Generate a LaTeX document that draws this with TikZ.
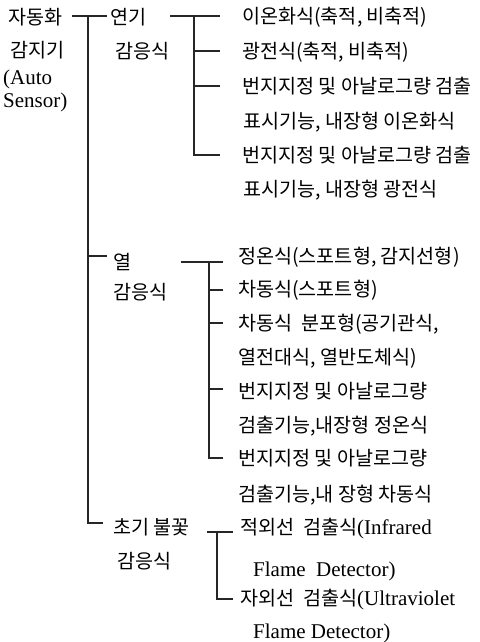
\documentclass[tikz,border=0pt]{standalone}
\usepackage{fontspec}
\setmainfont{Noto Sans CJK KR}
\newfontfamily\latf{Liberation Serif}
\newcommand\lt[1]{{\latf\fontsize{21}{21}\selectfont #1}}
\tikzset{
  txt/.style={anchor=base west, inner sep=0pt, font=\fontsize{19.6}{19.6}\selectfont},
  ln/.style={line width=1.1pt, black!85}
}
\begin{document}
\begin{tikzpicture}[x=1pt,y=-1pt]
\useasboundingbox[fill=white] (0,0) rectangle (479,642);
% root
\node[txt] (r1) at (8,25) {자동화};
\node[txt] (r2) at (10,58) {감지기};
\node[txt] (r3) at (3,84) {\lt{(Auto}};
\node[txt] (r4) at (3,107) {\lt{Sensor)}};
% level 1
\node[txt] (s1) at (110,25) {연기};
\node[txt] (s2) at (115,59) {감응식};
\node[txt] (h1) at (113,269) {열};
\node[txt] (h2) at (113,299) {감응식};
\node[txt] (f1) at (113,534) {초기 불꽃};
\node[txt] (f2) at (117,568) {감응식};
% smoke leaves
\node[txt] (a1) at (242,24) {이온화식(축적, 비축적)};
\node[txt] (a2) at (242,59) {광전식(축적, 비축적)};
\node[txt] (a3) at (242,93) {번지지정 및 아날로그량 검출};
\node[txt] (a4) at (243,128) {표시기능, 내장형 이온화식};
\node[txt] (a5) at (242,162) {번지지정 및 아날로그량 검출};
\node[txt] (a6) at (243,196) {표시기능, 내장형 광전식};
% heat leaves
\node[txt] (b1) at (238,263) {정온식(스포트형, 감지선형)};
\node[txt] (b2) at (238,296) {차동식(스포트형)};
\node[txt] (b3) at (238,330) {차동식\ \ 분포형(공기관식,};
\node[txt] (b4) at (238,364) {열전대식, 열반도체식)};
\node[txt] (b5) at (238,398) {번지지정 및 아날로그량};
\node[txt] (b6) at (238,432) {검출기능,내장형 정온식};
\node[txt] (b7) at (238,465) {번지지정 및 아날로그량};
\node[txt] (b8) at (238,501) {검출기능,내 장형 차동식};
% flame leaves
\node[txt] (c1) at (240,534) {적외선\ \ 검출식\lt{(Infrared}};
\node[txt] (c2) at (253,576) {\lt{Flame\ \ Detector)}};
\node[txt] (c3) at (240,605) {자외선\ \ 검출식\lt{(Ultraviolet}};
\node[txt] (c4) at (253,638) {\lt{Flame Detector)}};
% junction coordinates
\coordinate (m0) at (72,16);
\coordinate (mt) at (88,16);
\coordinate (m1) at (107,16);
\coordinate (mh) at (88,256);
\coordinate (mh1) at (107,256);
\coordinate (mb) at (88,523);
\coordinate (mf) at (103,523);
\coordinate (p0) at (170,16);
\coordinate (pt) at (194,16);
\coordinate (pa1) at (220,16);
\coordinate (pq2) at (194,51);
\coordinate (pa2) at (220,51);
\coordinate (pq3) at (194,86);
\coordinate (pa3) at (220,86);
\coordinate (pb) at (194,155);
\coordinate (pa5) at (220,155);
\coordinate (q0) at (181,262);
\coordinate (qt) at (209,262);
\coordinate (qb1) at (223,262);
\coordinate (qq2) at (209,290);
\coordinate (qb2) at (223,290);
\coordinate (qq3) at (209,323);
\coordinate (qb3) at (223,323);
\coordinate (qq5) at (209,389);
\coordinate (qb5) at (223,389);
\coordinate (qb) at (209,458);
\coordinate (qb7) at (223,458);
\coordinate (u0) at (207,532);
\coordinate (ut) at (217,532);
\coordinate (uc1) at (233,532);
\coordinate (ub) at (217,599);
\coordinate (uc3) at (233,599);
% connectors
\draw[ln] (m0) -- (m1);
\draw[ln] (mt) -- (mb) -- (mf);
\draw[ln] (mh) -- (mh1);
\draw[ln] (p0) -- (pa1);
\draw[ln] (pt) -- (pb) -- (pa5);
\draw[ln] (pq2) -- (pa2);
\draw[ln] (pq3) -- (pa3);
\draw[ln] (q0) -- (qb1);
\draw[ln] (qt) -- (qb) -- (qb7);
\draw[ln] (qq2) -- (qb2);
\draw[ln] (qq3) -- (qb3);
\draw[ln] (qq5) -- (qb5);
\draw[ln] (u0) -- (uc1);
\draw[ln] (ut) -- (ub) -- (uc3);
\end{tikzpicture}
\end{document}
